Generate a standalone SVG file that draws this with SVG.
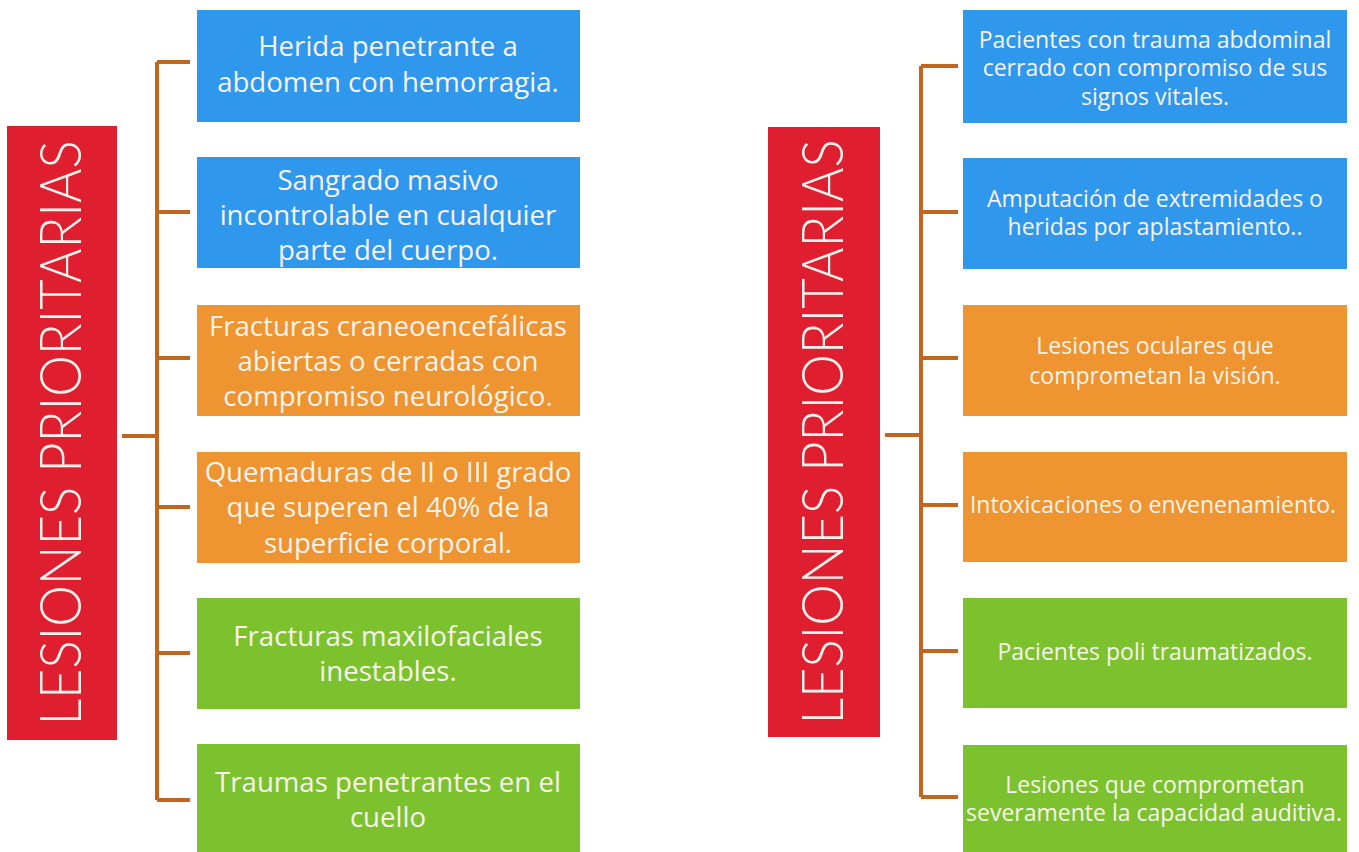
<svg xmlns="http://www.w3.org/2000/svg" width="1359" height="852" viewBox="0 0 1359 852">
<style>
.blue{fill:#2f98ec}
.orange{fill:#ee9430}
.green{fill:#7cc22e}
.red{fill:#df1f30}
.t{font-family:"Open Sans",Lato,"Liberation Sans",sans-serif;fill:#f7f3ec;text-anchor:middle}
.l{font-size:27.6px}
.r{font-size:23px}
.title{font-family:Lato,"Open Sans","Liberation Sans",sans-serif;font-weight:300;font-size:58px;fill:#f7f3ec;text-anchor:middle}
.c{stroke:#c2651e;stroke-width:4;fill:none}
</style>
<rect width="1359" height="852" fill="#ffffff"/>
<g id="connectors">
<path class="c" d="M122 436H157M157 62V800M157 62H190M157 212H190M157 358H190M157 507H190M157 653H190M157 800H190"/>
<path class="c" d="M885 435H921M921 66V797M921 66H958M921 212H958M921 358H958M921 505H958M921 651H958M921 797H958"/>
</g>
<g id="title-left">
<rect class="red" x="7" y="126" width="110" height="614"/>
<text class="title" transform="translate(81,433) rotate(-90)" textLength="585" lengthAdjust="spacingAndGlyphs">LESIONES PRIORITARIAS</text>
</g>
<g id="title-right">
<rect class="red" x="768" y="127" width="112" height="610"/>
<text class="title" transform="translate(843,432) rotate(-90)" textLength="585" lengthAdjust="spacingAndGlyphs">LESIONES PRIORITARIAS</text>
</g>
<g id="l1"><rect class="blue" x="197" y="10" width="383" height="112"/>
<text class="t l"><tspan x="388" y="56">Herida penetrante a</tspan><tspan x="388" y="92">abdomen con hemorragia.</tspan></text></g>
<g id="l2"><rect class="blue" x="197" y="157" width="383" height="111"/>
<text class="t l"><tspan x="388" y="190">Sangrado masivo</tspan><tspan x="388" y="225">incontrolable en cualquier</tspan><tspan x="388" y="260">parte del cuerpo.</tspan></text></g>
<g id="l3"><rect class="orange" x="197" y="305" width="383" height="111"/>
<text class="t l"><tspan x="388" y="336">Fracturas craneoencefálicas</tspan><tspan x="388" y="371">abiertas o cerradas con</tspan><tspan x="388" y="406">compromiso neurológico.</tspan></text></g>
<g id="l4"><rect class="orange" x="197" y="452" width="383" height="111"/>
<text class="t l"><tspan x="388" y="482">Quemaduras de II o III grado</tspan><tspan x="388" y="517">que superen el 40% de la</tspan><tspan x="388" y="553">superficie corporal.</tspan></text></g>
<g id="l5"><rect class="green" x="197" y="598" width="383" height="111"/>
<text class="t l"><tspan x="388" y="646">Fracturas maxilofaciales</tspan><tspan x="388" y="681">inestables.</tspan></text></g>
<g id="l6"><rect class="green" x="197" y="744" width="383" height="108"/>
<text class="t l"><tspan x="388" y="792">Traumas penetrantes en el</tspan><tspan x="388" y="827">cuello</tspan></text></g>
<g id="r1"><rect class="blue" x="963" y="10" width="384" height="113"/>
<text class="t r"><tspan x="1155" y="48">Pacientes con trauma abdominal</tspan><tspan x="1155" y="76">cerrado con compromiso de sus</tspan><tspan x="1155" y="105">signos vitales.</tspan></text></g>
<g id="r2"><rect class="blue" x="963" y="158" width="384" height="111"/>
<text class="t r"><tspan x="1155" y="207">Amputación de extremidades o</tspan><tspan x="1155" y="235">heridas por aplastamiento..</tspan></text></g>
<g id="r3"><rect class="orange" x="963" y="305" width="384" height="111"/>
<text class="t r"><tspan x="1155" y="354">Lesiones oculares que</tspan><tspan x="1155" y="384">comprometan la visión.</tspan></text></g>
<g id="r4"><rect class="orange" x="963" y="452" width="384" height="110"/>
<text class="t r"><tspan x="1153" y="513">Intoxicaciones o envenenamiento.</tspan></text></g>
<g id="r5"><rect class="green" x="963" y="598" width="384" height="110"/>
<text class="t r"><tspan x="1155" y="660">Pacientes poli traumatizados.</tspan></text></g>
<g id="r6"><rect class="green" x="963" y="745" width="384" height="107"/>
<text class="t r"><tspan x="1155" y="793">Lesiones que comprometan</tspan><tspan x="1154" y="821">severamente la capacidad auditiva.</tspan></text></g>
</svg>
